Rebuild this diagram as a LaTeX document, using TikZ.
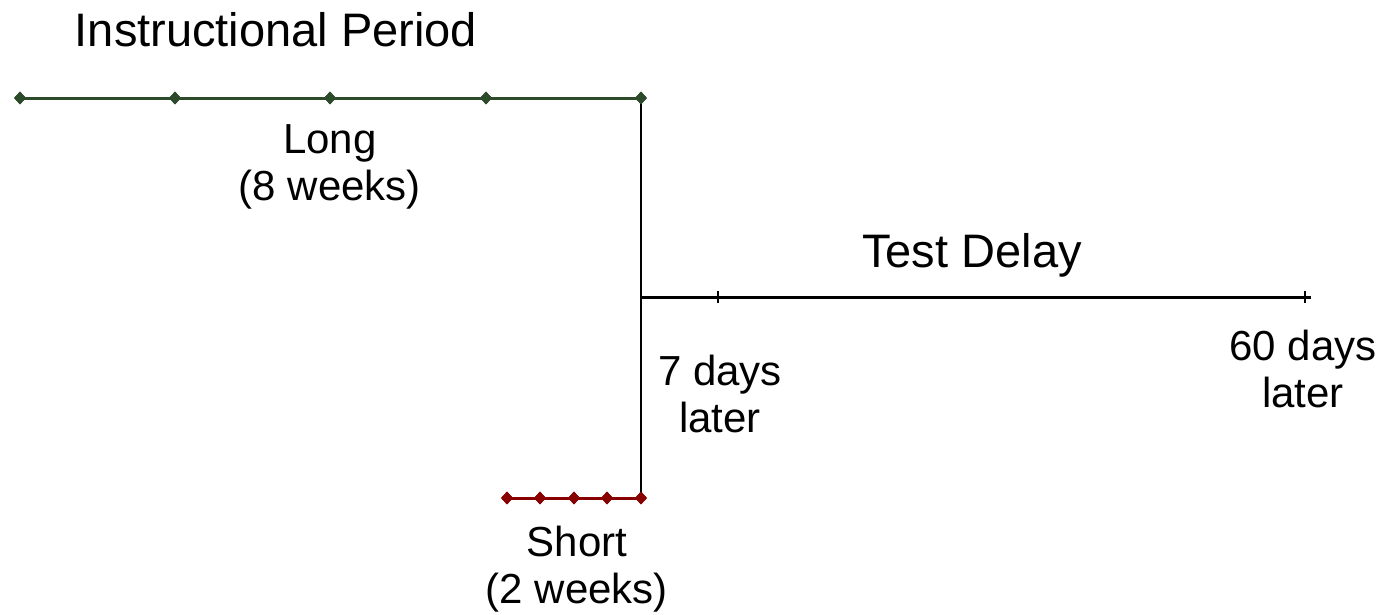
\documentclass[tikz,border=0pt]{standalone}
\usepackage{fontspec}
\setmainfont{Liberation Sans}
\usetikzlibrary{shapes.geometric}
\definecolor{longgreen}{RGB}{45,74,43}
\definecolor{shortred}{RGB}{136,0,0}
\begin{document}
\begin{tikzpicture}[x=1pt,y=-1pt,
  mark diamond/.style={diamond,fill=#1,draw=none,inner sep=0pt,minimum width=12pt,minimum height=13pt},
  label text/.style={align=center,font=\fontsize{42}{47}\selectfont},
  title text/.style={font=\fontsize{47}{54}\selectfont}]
\useasboundingbox (0,0) rectangle (1382,614);
% long instructional period
\foreach \i/\x in {1/20,2/175,3/330,4/486,5/641}
  \node[mark diamond=longgreen] (L\i) at (\x,98) {};
% short instructional period
\foreach \i/\x in {1/507,2/540,3/574,4/607,5/641}
  \node[mark diamond=shortred] (S\i) at (\x,498) {};
% test delay axis points
\coordinate (T0) at (641,297);
\coordinate (T1) at (718,297);
\coordinate (T2) at (1305,297);
\coordinate (Tend) at (1311,297);
% lines
\draw[shortred,line width=3pt] (S1.center) -- (S5.center);
\draw[black,line width=2pt] (L5.center) -- (S5.center);
\draw[longgreen,line width=3pt] (L1.center) -- (L5.center);
\foreach \i in {1,...,5} \node[mark diamond=longgreen] at (L\i) {};
\foreach \i in {1,...,5} \node[mark diamond=shortred] at (S\i) {};
\draw[black,line width=3pt] (T0) -- (Tend);
\draw[black,line width=1.5pt] ([yshift=-6pt]T1) -- ([yshift=6pt]T1);
\draw[black,line width=1.5pt] ([yshift=-6pt]T2) -- ([yshift=6pt]T2);
% labels
\node[title text] (instr) at (276,30) {Instructional Period};
\node[label text] (longlbl) at (330,167) {Long\\(8 weeks)};
\node[title text] (delay) at (972,255) {Test Delay};
\node[label text] (sevenlbl) at (720,394) {7 days\\later};
\node[label text] (sixtylbl) at (1303,369) {60 days\\later};
\node[label text] (shortlbl) at (577,569) {Short\\(2 weeks)};
\end{tikzpicture}
\end{document}
